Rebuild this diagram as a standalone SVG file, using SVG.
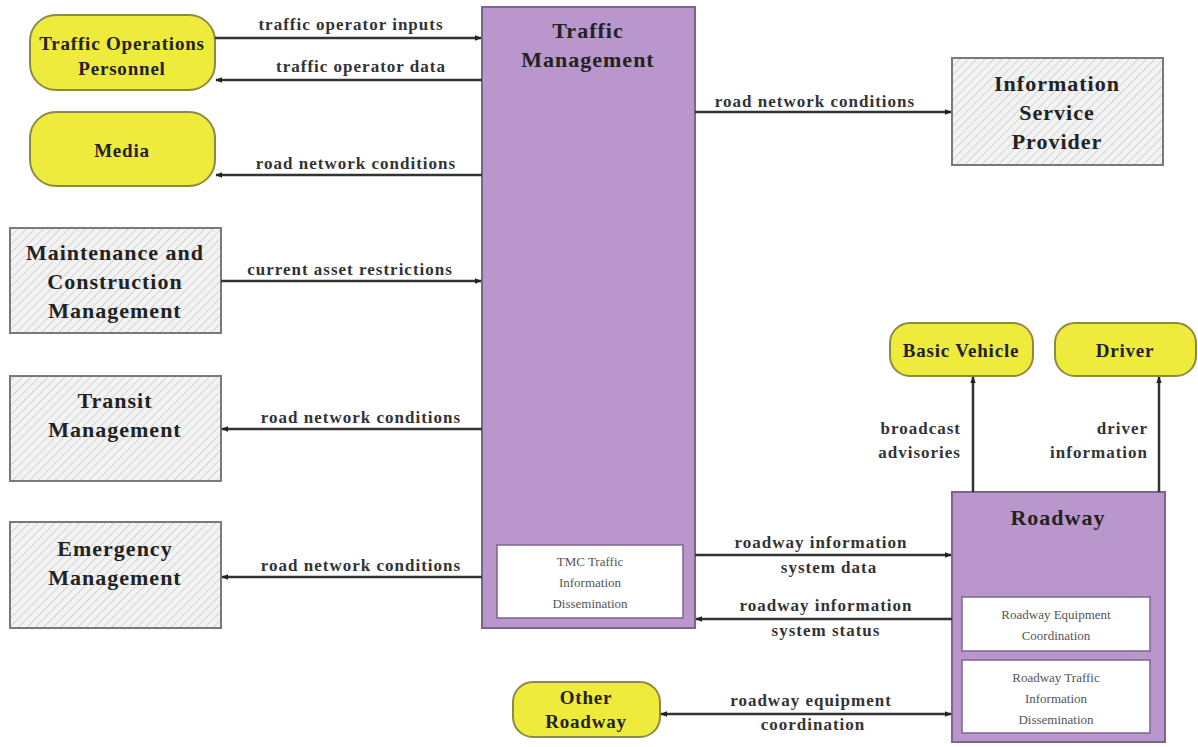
<svg xmlns="http://www.w3.org/2000/svg" width="1198" height="747" viewBox="0 0 1198 747">
<defs>
<pattern id="hatch" patternUnits="userSpaceOnUse" width="6" height="6" patternTransform="rotate(45)">
<rect width="6" height="6" fill="#f3f3f3"/>
<line x1="0" y1="0" x2="0" y2="6" stroke="#c4c4c4" stroke-width="1.3"/>
</pattern>
<marker id="arr" viewBox="0 0 10 10" refX="9" refY="5" markerWidth="7" markerHeight="7" orient="auto-start-reverse" markerUnits="userSpaceOnUse">
<path d="M0,1 L10,5 L0,9 Z" fill="#222"/>
</marker>
<style>
.yel{fill:#eeeb3c;stroke:#8d8a48;stroke-width:2}
.gry{fill:url(#hatch);stroke:#7a7a7a;stroke-width:2}
.pur{fill:#b996cb;stroke:#7d6590;stroke-width:2}
.inner{fill:#ffffff;stroke:#7d6590;stroke-width:1.5}
.nt{font-family:"Liberation Serif",serif;font-weight:bold;font-size:22px;fill:#222;text-anchor:middle;letter-spacing:1px}
.yt{font-family:"Liberation Serif",serif;font-weight:bold;font-size:19px;fill:#222;text-anchor:middle;letter-spacing:0.8px}
.it{font-family:"Liberation Serif",serif;font-size:13px;fill:#555;text-anchor:middle}
.lb{font-family:"Liberation Serif",serif;font-weight:bold;font-size:17px;fill:#333;text-anchor:middle;letter-spacing:1px}
.lbe{font-family:"Liberation Serif",serif;font-weight:bold;font-size:17px;fill:#333;text-anchor:end;letter-spacing:1px}
.ln{stroke:#333;stroke-width:2.5;fill:none}
</style>
</defs>
<rect width="1198" height="747" fill="#ffffff"/>

<g id="traffic-operations-personnel">
<rect class="yel" x="30" y="15" width="185" height="75" rx="26"/>
<text class="yt" x="122" y="50">Traffic Operations</text>
<text class="yt" x="122" y="75">Personnel</text>
</g>
<g id="media">
<rect class="yel" x="30" y="112" width="185" height="74" rx="26"/>
<text class="yt" x="122" y="157">Media</text>
</g>
<g id="maintenance-construction">
<rect class="gry" x="10" y="228" width="211" height="105"/>
<text class="nt" x="115" y="260">Maintenance and</text>
<text class="nt" x="115" y="289">Construction</text>
<text class="nt" x="115" y="318">Management</text>
</g>
<g id="transit-management">
<rect class="gry" x="10" y="376" width="211" height="105"/>
<text class="nt" x="115" y="408">Transit</text>
<text class="nt" x="115" y="437">Management</text>
</g>
<g id="emergency-management">
<rect class="gry" x="10" y="522" width="211" height="106"/>
<text class="nt" x="115" y="556">Emergency</text>
<text class="nt" x="115" y="585">Management</text>
</g>
<g id="traffic-management">
<rect class="pur" x="482" y="7" width="213" height="621"/>
<text class="nt" x="588" y="38">Traffic</text>
<text class="nt" x="588" y="67">Management</text>
<rect class="inner" x="497" y="545" width="186" height="73"/>
<text class="it" x="590" y="566">TMC Traffic</text>
<text class="it" x="590" y="587">Information</text>
<text class="it" x="590" y="608">Dissemination</text>
</g>
<g id="information-service-provider">
<rect class="gry" x="952" y="58" width="211" height="107"/>
<text class="nt" x="1057" y="91">Information</text>
<text class="nt" x="1057" y="120">Service</text>
<text class="nt" x="1057" y="149">Provider</text>
</g>
<g id="basic-vehicle">
<rect class="yel" x="890" y="323" width="143" height="53" rx="20"/>
<text class="yt" x="961" y="357">Basic Vehicle</text>
</g>
<g id="driver">
<rect class="yel" x="1055" y="323" width="141" height="53" rx="20"/>
<text class="yt" x="1125" y="357">Driver</text>
</g>
<g id="roadway">
<rect class="pur" x="952" y="492" width="213" height="250"/>
<text class="nt" x="1058" y="525">Roadway</text>
<rect class="inner" x="962" y="597" width="188" height="54"/>
<text class="it" x="1056" y="619">Roadway Equipment</text>
<text class="it" x="1056" y="640">Coordination</text>
<rect class="inner" x="962" y="660" width="188" height="73"/>
<text class="it" x="1056" y="682">Roadway Traffic</text>
<text class="it" x="1056" y="703">Information</text>
<text class="it" x="1056" y="724">Dissemination</text>
</g>
<g id="other-roadway">
<rect class="yel" x="513" y="682" width="147" height="55" rx="20"/>
<text class="yt" x="586" y="704">Other</text>
<text class="yt" x="586" y="728">Roadway</text>
</g>

<g id="connectors">
<line class="ln" x1="215" y1="38" x2="481" y2="38" marker-end="url(#arr)"/>
<text class="lb" x="351" y="30">traffic operator inputs</text>
<line class="ln" x1="482" y1="80" x2="216" y2="80" marker-end="url(#arr)"/>
<text class="lb" x="361" y="72">traffic operator data</text>
<line class="ln" x1="482" y1="175" x2="216" y2="175" marker-end="url(#arr)"/>
<text class="lb" x="356" y="169">road network conditions</text>
<line class="ln" x1="221" y1="281" x2="481" y2="281" marker-end="url(#arr)"/>
<text class="lb" x="350" y="275">current asset restrictions</text>
<line class="ln" x1="482" y1="429" x2="222" y2="429" marker-end="url(#arr)"/>
<text class="lb" x="361" y="423">road network conditions</text>
<line class="ln" x1="482" y1="577" x2="222" y2="577" marker-end="url(#arr)"/>
<text class="lb" x="361" y="571">road network conditions</text>
<line class="ln" x1="695" y1="112" x2="951" y2="112" marker-end="url(#arr)"/>
<text class="lb" x="815" y="107">road network conditions</text>
<line class="ln" x1="695" y1="555" x2="951" y2="555" marker-end="url(#arr)"/>
<text class="lb" x="821" y="548">roadway information</text>
<text class="lb" x="829" y="573">system data</text>
<line class="ln" x1="952" y1="619" x2="696" y2="619" marker-end="url(#arr)"/>
<text class="lb" x="826" y="611">roadway information</text>
<text class="lb" x="826" y="636">system status</text>
<line class="ln" x1="661" y1="714" x2="951" y2="714" marker-start="url(#arr)" marker-end="url(#arr)"/>
<text class="lb" x="811" y="706">roadway equipment</text>
<text class="lb" x="813" y="730">coordination</text>
<line class="ln" x1="973" y1="492" x2="973" y2="377" marker-end="url(#arr)"/>
<text class="lbe" x="961" y="434">broadcast</text>
<text class="lbe" x="961" y="458">advisories</text>
<line class="ln" x1="1159" y1="492" x2="1159" y2="377" marker-end="url(#arr)"/>
<text class="lbe" x="1148" y="434">driver</text>
<text class="lbe" x="1148" y="458">information</text>
</g>
</svg>
